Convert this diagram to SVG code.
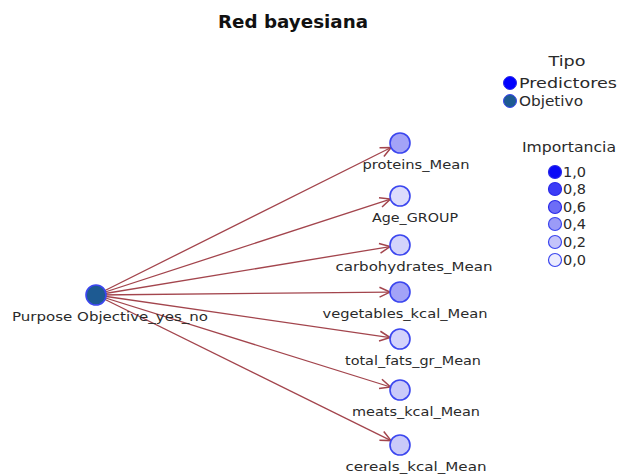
<svg xmlns="http://www.w3.org/2000/svg" width="619" height="475" viewBox="0 0 619 475">
  <style>
    text { font-family: "DejaVu Sans", "Liberation Sans", sans-serif; fill: #2a2a2a; }
    .title { font-size: 18px; font-weight: bold; fill: #111; }
    .lbl { font-size: 12.5px; text-anchor: middle; }
    .leg { font-size: 14px; }
    .val { font-size: 14.5px; }
    .edge { stroke: #a3454d; stroke-width: 1.3; fill: none; marker-end: url(#arrow); }
    .node { stroke: #3b46ef; stroke-width: 1.6; }
  </style>
  <defs>
    <marker id="arrow" markerUnits="userSpaceOnUse" markerWidth="14" markerHeight="14" viewBox="-10 -6 12 12" refX="0" refY="0" orient="auto">
      <path d="M-9,-4.2 L0,0 L-9,4.2" fill="none" stroke="#a3454d" stroke-width="1.3"/>
    </marker>
  </defs>

  <rect width="619" height="475" fill="#ffffff"/>

  <text class="title" x="293" y="28" text-anchor="middle" textLength="150" lengthAdjust="spacingAndGlyphs">Red bayesiana</text>

  <!-- connectors -->
  <g id="edges">
    <line class="edge" x1="96" y1="295" x2="391.1" y2="147.5"/>
    <line class="edge" x1="96" y1="295" x2="390.5" y2="199.1"/>
    <line class="edge" x1="96" y1="295" x2="390.1" y2="246.6"/>
    <line class="edge" x1="96" y1="295" x2="390.0" y2="292.1"/>
    <line class="edge" x1="96" y1="295" x2="390.1" y2="337.6"/>
    <line class="edge" x1="96" y1="295" x2="390.5" y2="387.0"/>
    <line class="edge" x1="96" y1="295" x2="391.0" y2="440.6"/>
  </g>

  <!-- target node -->
  <g id="purpose">
    <circle class="node" cx="96" cy="295" r="10" fill="#1d5a92"/>
    <text class="lbl" x="110" y="321" textLength="196" lengthAdjust="spacingAndGlyphs">Purpose Objective_yes_no</text>
  </g>

  <!-- predictor nodes -->
  <g id="proteins">
    <circle class="node" cx="400" cy="143" r="10" fill="#a3a3f7"/>
    <text class="lbl" x="416" y="169" textLength="107" lengthAdjust="spacingAndGlyphs">proteins_Mean</text>
  </g>
  <g id="age">
    <circle class="node" cx="400" cy="196" r="10" fill="#dcdcfc"/>
    <text class="lbl" x="415" y="222" textLength="86" lengthAdjust="spacingAndGlyphs">Age_GROUP</text>
  </g>
  <g id="carbohydrates">
    <circle class="node" cx="400" cy="245" r="10" fill="#d3d3fb"/>
    <text class="lbl" x="414" y="271" textLength="157" lengthAdjust="spacingAndGlyphs">carbohydrates_Mean</text>
  </g>
  <g id="vegetables">
    <circle class="node" cx="400" cy="292" r="10" fill="#a3a3f7"/>
    <text class="lbl" x="405" y="318" textLength="165" lengthAdjust="spacingAndGlyphs">vegetables_kcal_Mean</text>
  </g>
  <g id="total_fats">
    <circle class="node" cx="400" cy="339" r="10" fill="#d3d3fb"/>
    <text class="lbl" x="413" y="365" textLength="136" lengthAdjust="spacingAndGlyphs">total_fats_gr_Mean</text>
  </g>
  <g id="meats">
    <circle class="node" cx="400" cy="390" r="10" fill="#cacaf9"/>
    <text class="lbl" x="416" y="416" textLength="128" lengthAdjust="spacingAndGlyphs">meats_kcal_Mean</text>
  </g>
  <g id="cereals">
    <circle class="node" cx="400" cy="445" r="10" fill="#cacaf9"/>
    <text class="lbl" x="416" y="471" textLength="141" lengthAdjust="spacingAndGlyphs">cereals_kcal_Mean</text>
  </g>

  <!-- legend: type -->
  <g id="legend-tipo">
    <text class="leg" x="567" y="66" text-anchor="middle" textLength="37" lengthAdjust="spacingAndGlyphs">Tipo</text>
    <circle cx="510" cy="83" r="6.5" fill="#0000ff" stroke="#2a2ae8" stroke-width="1"/>
    <text class="leg" x="519" y="88" textLength="98" lengthAdjust="spacingAndGlyphs">Predictores</text>
    <circle cx="510" cy="101" r="6.5" fill="#1d5a92" stroke="#3b46ef" stroke-width="1"/>
    <text class="leg" x="519" y="106" textLength="64" lengthAdjust="spacingAndGlyphs">Objetivo</text>
  </g>

  <!-- legend: importance -->
  <g id="legend-importancia">
    <text class="leg" x="569" y="152" text-anchor="middle" textLength="94" lengthAdjust="spacingAndGlyphs">Importancia</text>
    <circle cx="555" cy="172" r="6.5" fill="#0a0af7" stroke="#2a2ae8" stroke-width="1.2"/>
    <text class="val" x="563" y="177">1,0</text>
    <circle cx="555" cy="189" r="6.5" fill="#3c3cf6" stroke="#2a2ae8" stroke-width="1.2"/>
    <text class="val" x="563" y="194">0,8</text>
    <circle cx="555" cy="207" r="6.5" fill="#6d6df6" stroke="#2a2ae8" stroke-width="1.2"/>
    <text class="val" x="563" y="212">0,6</text>
    <circle cx="555" cy="224" r="6.5" fill="#9b9bf7" stroke="#3b46ef" stroke-width="1.2"/>
    <text class="val" x="563" y="229">0,4</text>
    <circle cx="555" cy="242" r="6.5" fill="#c4c4fa" stroke="#3b46ef" stroke-width="1.2"/>
    <text class="val" x="563" y="247">0,2</text>
    <circle cx="555" cy="260" r="6.5" fill="#ececfe" stroke="#3b46ef" stroke-width="1.2"/>
    <text class="val" x="563" y="265">0,0</text>
  </g>
</svg>
